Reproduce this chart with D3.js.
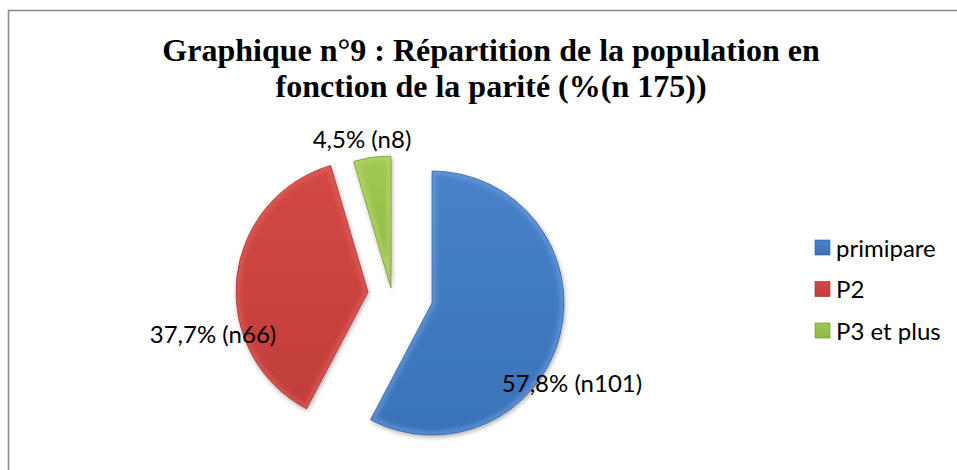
<!DOCTYPE html>
<html><head><meta charset="utf-8">
<script src="https://cdn.jsdelivr.net/npm/d3@7/dist/d3.min.js"></script>
<style>body{margin:0;background:#fff;}svg{display:block;}</style>
</head><body>
<svg id="c" width="957" height="470"></svg>
<script>
// ---- data ----
const categories = ["primipare", "P2", "P3 et plus"];
const counts = [101, 66, 8];
const percents = ["57,8%", "37,7%", "4,5%"];
const countLabels = ["n101", "n66", "n8"];
const titleLines = ["Graphique n°9 : Répartition de la population en", "fonction de la parité (%(n 175))"];

// ---- layout / style ----
const W = 957, H = 470;
const colors = ["#3d78c2", "#cc413d", "#98c24a"];
const lights = ["#7aa8e6", "#ea6a66", "#c2e27a"];
const darks = ["#2a5896", "#962b28", "#6a8e2c"];
const center = [400, 296];
const radius = 132;
const sliceShift = [[32, 7], [-32, -4], [-9, -8]];
const labelShift = [[140, 79], [-155, 41], [-29, -150]];

const svg = d3.select("#c");
svg.append("rect").attr("x", 8.5).attr("y", 10.5).attr("width", W).attr("height", H)
  .attr("fill", "#fff").attr("stroke", "#8c8c8c").attr("stroke-width", 1.6);

const defs = svg.append("defs");
categories.forEach((c, i) => {
  const g = defs.append("linearGradient").attr("id", "g" + i)
    .attr("x1", 0).attr("y1", 0).attr("x2", 0).attr("y2", 1);
  g.append("stop").attr("offset", "0%").attr("stop-color", d3.interpolateRgb(colors[i], lights[i])(0.2));
  g.append("stop").attr("offset", "100%").attr("stop-color", d3.interpolateRgb(colors[i], darks[i])(0.2));
});
const f = defs.append("filter").attr("id", "sh").attr("x", "-20%").attr("y", "-20%").attr("width", "140%").attr("height", "140%");
f.append("feGaussianBlur").attr("in", "SourceAlpha").attr("stdDeviation", 2.5).attr("result", "b");
f.append("feOffset").attr("dx", 1).attr("dy", 2).attr("result", "o");
f.append("feComponentTransfer").append("feFuncA").attr("type", "linear").attr("slope", 0.35);
const m = f.append("feMerge"); m.append("feMergeNode"); m.append("feMergeNode").attr("in", "SourceGraphic");
const bl = defs.append("filter").attr("id", "bl"); bl.append("feGaussianBlur").attr("stdDeviation", 2);

// title
const t = svg.append("text").attr("text-anchor", "middle")
  .attr("font-family", "'Liberation Serif', 'Times New Roman', serif").attr("font-weight", "bold")
  .attr("font-size", 32).attr("fill", "#000");
titleLines.forEach((l, i) => t.append("tspan").attr("x", 491).attr("y", 61 + i * 36).text(l));

// pie
const pie = d3.pie().sort(null).value(d => d);
const arc = d3.arc().innerRadius(0).outerRadius(radius);
const arcs = pie(counts);
const gp = svg.append("g").attr("transform", `translate(${center})`);
arcs.forEach((a, i) => {
  const s = gp.append("g").attr("transform", `translate(${sliceShift[i]})`);
  defs.append("clipPath").attr("id", "cp" + i).append("path").attr("d", arc(a));
  s.append("path").attr("d", arc(a)).attr("fill", `url(#g${i})`).attr("filter", "url(#sh)");
  s.append("path").attr("d", arc(a)).attr("fill", "none").attr("stroke", lights[i])
    .attr("stroke-width", 8).attr("stroke-opacity", 0.5).attr("filter", "url(#bl)")
    .attr("clip-path", `url(#cp${i})`);
  s.append("path").attr("d", arc(a)).attr("fill", "none").attr("stroke", darks[i])
    .attr("stroke-width", 0.8).attr("stroke-opacity", 0.8);
});
arcs.forEach((a, i) => {
  gp.append("text").attr("x", sliceShift[i][0] + labelShift[i][0]).attr("y", sliceShift[i][1] + labelShift[i][1])
    .attr("text-anchor", "middle").attr("dominant-baseline", "central")
    .attr("font-family", "Lato, Carlito, Calibri, sans-serif").attr("font-size", 24).attr("fill", "#000")
    .text(`${percents[i]} (${countLabels[i]})`);
});

// legend
const lg = svg.append("g");
categories.forEach((c, i) => {
  const y = 247 + i * 41.5;
  lg.append("rect").attr("x", 815).attr("y", y - 7).attr("width", 15).attr("height", 15)
    .attr("fill", `url(#g${i})`).attr("stroke", darks[i]).attr("stroke-width", 0.6);
  lg.append("text").attr("x", 836).attr("y", y).attr("dominant-baseline", "central")
    .attr("font-family", "Lato, Carlito, Calibri, sans-serif").attr("font-size", 24).attr("fill", "#000")
    .text(c);
});
</script>
</body></html>
